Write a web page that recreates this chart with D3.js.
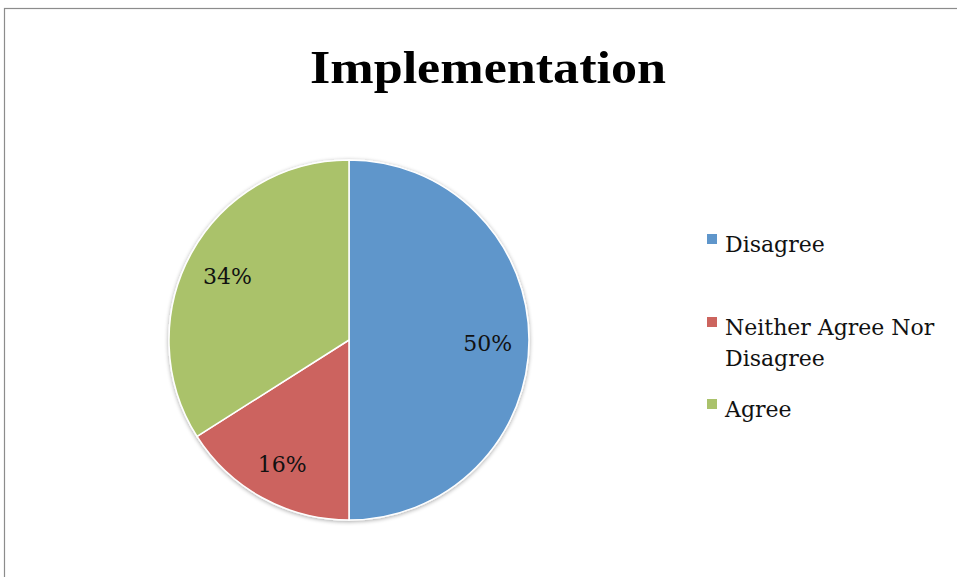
<!DOCTYPE html>
<html>
<head>
<meta charset="utf-8">
<script src="https://cdn.jsdelivr.net/npm/d3@7"></script>
<style>
  html, body { margin: 0; padding: 0; background: #fff; }
  svg { display: block; }
</style>
</head>
<body>
<svg id="chart" width="957" height="577"></svg>
<script>
// Survey responses for "Implementation"
const categories = ["Disagree", "Neither Agree Nor Disagree", "Agree"];
const shares = [50, 16, 34];
const legendLines = [["Disagree"], ["Neither Agree Nor", "Disagree"], ["Agree"]];
const colors = ["#5f96cb", "#cc645e", "#aac26b"];

const svg = d3.select("#chart");
const serif = "'Liberation Serif', 'DejaVu Serif', serif";
const bodySerif = "'DejaVu Serif', 'Liberation Serif', serif";

// chart frame (only top and left edges fall inside the view)
svg.append("rect")
  .attr("x", 4.5).attr("y", 8.5)
  .attr("width", 1000).attr("height", 1000)
  .attr("fill", "#fff")
  .attr("stroke", "#8c8c8c").attr("stroke-width", 1.2);

// title
svg.append("text")
  .attr("x", 488).attr("y", 83)
  .attr("text-anchor", "middle")
  .attr("font-family", serif)
  .attr("font-weight", "bold")
  .attr("font-size", 46)
  .attr("textLength", 356)
  .attr("lengthAdjust", "spacingAndGlyphs")
  .text("Implementation");

// pie
const cx = 349, cy = 340, r = 180;
const pie = d3.pie().sort(null).value(d => d);
const arcs = pie(shares);
const arc = d3.arc().innerRadius(0).outerRadius(r);

const defs = svg.append("defs");
const f = defs.append("filter").attr("id", "shadow")
  .attr("x", "-10%").attr("y", "-10%").attr("width", "120%").attr("height", "120%");
f.append("feGaussianBlur").attr("in", "SourceAlpha").attr("stdDeviation", 2);
f.append("feOffset").attr("dx", 0).attr("dy", 1).attr("result", "b");
f.append("feComponentTransfer").append("feFuncA").attr("type", "linear").attr("slope", 0.35);
const m = f.append("feMerge");
m.append("feMergeNode");
m.append("feMergeNode").attr("in", "SourceGraphic");

const g = svg.append("g").attr("transform", `translate(${cx},${cy})`);
g.append("g").attr("filter", "url(#shadow)")
  .selectAll("path")
  .data(arcs)
  .join("path")
  .attr("d", arc)
  .attr("fill", (d, i) => colors[i])
  .attr("stroke", "#fff")
  .attr("stroke-width", 1.5);

// percentage labels
const labelArc = d3.arc().innerRadius(r * 0.77).outerRadius(r * 0.77);
g.selectAll("text.pct")
  .data(arcs)
  .join("text")
  .attr("class", "pct")
  .attr("transform", d => {
    const [x, y] = labelArc.centroid(d);
    return `translate(${x},${y})`;
  })
  .attr("text-anchor", "middle")
  .attr("dy", "0.5em")
  .attr("font-family", bodySerif)
  .attr("font-size", 22)
  .attr("fill", "#111")
  .text(d => d.data + "%");

// legend
const legendY = [245, 328, 410];
const lg = svg.append("g");
categories.forEach((c, i) => {
  lg.append("rect")
    .attr("x", 707).attr("y", legendY[i] - 11)
    .attr("width", 10).attr("height", 10)
    .attr("fill", colors[i]);
  legendLines[i].forEach((line, j) => {
    lg.append("text")
      .attr("x", 725).attr("y", legendY[i] + j * 31 + 7)
      .attr("font-family", bodySerif)
      .attr("font-size", 22)
      .attr("fill", "#111")
      .text(line);
  });
});
</script>
</body>
</html>
